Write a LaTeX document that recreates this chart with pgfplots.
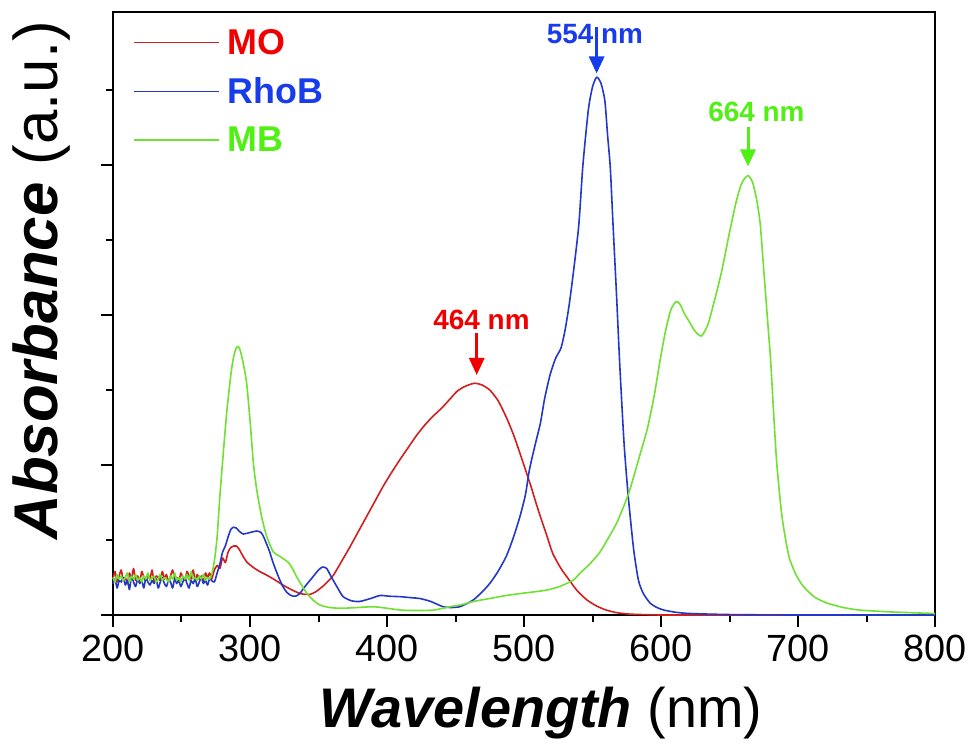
\documentclass[border=0pt]{standalone}
\usepackage{fontspec}
\setmainfont{Liberation Sans}
\usepackage{pgfplots}
\pgfplotsset{compat=1.18}
\usetikzlibrary{arrows.meta}

\definecolor{moline}{RGB}{210,30,30}
\definecolor{motext}{RGB}{240,0,0}
\definecolor{rholine}{RGB}{35,55,200}
\definecolor{rhotext}{RGB}{25,60,235}
\definecolor{mbline}{RGB}{110,225,50}
\definecolor{mbtext}{RGB}{80,240,20}

\begin{document}
\begin{tikzpicture}
\begin{axis}[
  width=822bp, height=603bp, scale only axis,
  xmin=200, xmax=800, ymin=0, ymax=4.02,
  xtick={200,300,...,800}, minor xtick={250,350,...,750},
  ytick={0,1,2,3}, minor ytick={0.5,1.5,2.5,3.5}, yticklabels={},
  tick align=outside, xtick pos=bottom, ytick pos=left,
  major tick length=12bp, minor tick length=7bp,
  axis line style={line width=2.5bp},
  every tick/.style={line width=2bp, black},
  /pgf/number format/assume math mode=true,
  tick label style={font=\fontsize{38}{40}\selectfont, inner sep=2bp},
  xticklabel style={yshift=-6bp},
  xlabel={\textbf{\textit{Wavelength}} (nm)},
  xlabel style={font=\fontsize{56}{60}\selectfont, at={(axis description cs:0.5207,-0.187)}, anchor=base},
  ylabel={\textbf{\textit{Absorbance}} (a.u.)},
  ylabel style={font=\fontsize{62}{66}\selectfont, at={(axis description cs:-0.0864,0.555)}, anchor=center},
  legend style={at={(axis description cs:0.024,0.975)}, anchor=north west, draw=none, fill=none,
    font=\fontsize{36}{38}\selectfont\bfseries, row sep=18bp, inner sep=0pt,
    /tikz/every odd column/.append style={column sep=6bp}},
  legend cell align=left,
  legend image code/.code={\draw[#1, line width=1.8bp] (0bp,0bp) -- (85bp,0bp);},
  every axis plot/.append style={line width=1.6bp, line join=round, smooth, tension=0.4},
  clip=false,
]
% MO
\addplot[moline] coordinates {
(200,0.24)(201.5,0.29)(203,0.22)(204.5,0.26)(206,0.30)(207.5,0.23)(209,0.25)(210.5,0.21)(212,0.28)(213.5,0.24)
(215,0.31)(216.5,0.23)(218,0.26)(219.5,0.22)(221,0.29)(222.5,0.25)(224,0.23)(225.5,0.27)(227,0.24)(228.5,0.30)
(230,0.22)(231.5,0.26)(233,0.25)(234.5,0.23)(236,0.29)(237.5,0.24)(239,0.27)(240.5,0.22)(242,0.26)(243.5,0.30)
(245,0.24)(246.5,0.25)(248,0.22)(249.5,0.28)(251,0.25)(252.5,0.23)(254,0.29)(255.5,0.26)(257,0.24)(258.5,0.30)
(260,0.23)(261.5,0.27)(263,0.24)(264.5,0.26)(266,0.22)(267.5,0.28)(269,0.25)(270.5,0.28)(272,0.24)(274,0.30)(276,0.33)
(278,0.31)(280,0.38)(282,0.35)(284,0.42)(286,0.45)(288,0.46)(290,0.46)(292,0.44)(295,0.39)
(298,0.35)(302,0.32)(307,0.29)(312,0.267)(318,0.235)(324,0.2)(330,0.17)(336,0.145)(340,0.138)
(344,0.138)(348,0.155)(353,0.19)(357,0.225)(361,0.267)(367,0.36)(373,0.455)(379,0.555)(385,0.655)
(391,0.755)(397,0.855)(403,0.945)(409,1.03)(415,1.11)(421,1.19)(427,1.26)(433,1.32)(440,1.38)
(446,1.44)(451,1.49)(456,1.52)(460,1.535)(464,1.545)(469,1.535)(475,1.5)(481,1.43)(487,1.32)
(492,1.21)(497,1.08)(501,0.97)(505,0.86)(509,0.74)(512,0.655)(517,0.52)(521,0.41)(527,0.31)
(533,0.233)(539,0.16)(546,0.1)(553,0.06)(560,0.033)(568,0.015)(577,0.006)(590,0.002)(610,0)(800,0)
};
\addlegendentry{\textcolor{motext}{MO}}
% RhoB
\addplot[rholine] coordinates {
(200,0.21)(201.5,0.24)(203,0.18)(204.5,0.23)(206,0.22)(207.5,0.25)(209,0.20)(210.5,0.23)(212,0.17)(213.5,0.26)
(215,0.22)(216.5,0.19)(218,0.24)(219.5,0.21)(221,0.23)(222.5,0.18)(224,0.25)(225.5,0.22)(227,0.2)(228.5,0.23)
(230,0.21)(231.5,0.24)(233,0.18)(234.5,0.22)(236,0.25)(237.5,0.21)(239,0.19)(240.5,0.23)(242,0.22)(243.5,0.18)
(245,0.24)(246.5,0.21)(248,0.23)(249.5,0.19)(251,0.22)(252.5,0.25)(254,0.21)(255.5,0.18)(257,0.23)(258.5,0.21)
(260,0.24)(261.5,0.19)(263,0.22)(264.5,0.25)(266,0.21)(267.5,0.23)(269,0.2)(270.5,0.24)(272,0.23)(274,0.22)(276,0.28)
(278,0.34)(280,0.42)(282,0.46)(284,0.52)(286,0.57)(288,0.585)(290,0.58)(292,0.56)(295,0.54)
(300,0.55)(305,0.56)(308,0.55)(310,0.52)(314,0.43)(317,0.345)(321,0.25)(324,0.19)(327,0.15)
(330,0.13)(333,0.125)(336,0.14)(341,0.2)(346,0.255)(350,0.30)(353,0.32)(356,0.31)(359,0.26)
(364,0.18)(368,0.122)(374,0.095)(380,0.09)(388,0.11)(395,0.13)(402,0.125)(410,0.122)(418,0.115)
(424,0.11)(432,0.09)(441,0.055)(447,0.05)(453,0.055)(458,0.075)(463,0.1)(469,0.15)(475,0.21)
(481,0.29)(487,0.39)(492,0.51)(497,0.655)(501,0.8)(504,0.97)(508,1.13)(512,1.28)(515,1.44)
(519,1.6)(523,1.71)(527,1.78)(530,1.9)(533,2.07)(536,2.28)(540,2.6)(543,3.0)(547,3.37)
(550,3.52)(553,3.585)(556,3.55)(559,3.43)(561,3.2)(563,2.98)(565,2.6)(567.5,2.14)(570,1.65)
(573,1.15)(576,0.8)(580,0.44)(583.5,0.233)(587,0.145)(592,0.08)(597,0.05)(602,0.033)(611,0.018)
(621,0.01)(650,0.003)(700,0)(800,0)
};
\addlegendentry{\textcolor{rhotext}{RhoB}}
% MB
\addplot[mbline] coordinates {
(200,0.25)(201.5,0.22)(203,0.27)(204.5,0.24)(206,0.26)(207.5,0.23)(209,0.25)(210.5,0.28)(212,0.22)(213.5,0.26)
(215,0.24)(216.5,0.27)(218,0.23)(219.5,0.25)(221,0.22)(222.5,0.26)(224,0.24)(225.5,0.28)(227,0.23)(228.5,0.25)
(230,0.26)(231.5,0.22)(233,0.24)(234.5,0.27)(236,0.23)(237.5,0.25)(239,0.24)(240.5,0.22)(242,0.26)(243.5,0.24)
(245,0.28)(246.5,0.23)(248,0.25)(249.5,0.22)(251,0.26)(252.5,0.24)(254,0.27)(255.5,0.23)(257,0.29)(258.5,0.24)
(260,0.25)(261.5,0.23)(263,0.26)(264.5,0.24)(266,0.27)(267.5,0.23)(269,0.25)(270.5,0.24)(272,0.27)(274,0.36)(276,0.52)
(278,0.79)(280.5,1.08)(283,1.35)(286,1.6)(288,1.72)(290,1.78)(291.5,1.79)(293,1.76)(295,1.68)
(297.5,1.55)(300,1.3)(302.5,1.01)(305,0.83)(308.5,0.655)(312,0.53)(317,0.42)(322,0.39)(328,0.35)
(331,0.31)(334,0.255)(338,0.195)(341.5,0.145)(346,0.1)(351,0.067)(358,0.05)(366,0.045)(375,0.048)
(390,0.055)(400,0.045)(410,0.033)(420,0.03)(434,0.033)(446,0.055)(455,0.07)(463,0.09)(475,0.11)
(487,0.13)(499,0.145)(508,0.155)(517,0.167)(526,0.19)(536,0.233)(541,0.28)(548,0.34)(555.5,0.42)
(562,0.52)(568,0.62)(576,0.8)(580,0.92)(585,1.08)(590,1.24)(595,1.46)(599,1.68)(603,1.88)
(607,2.03)(611,2.09)(614,2.07)(617,2.01)(621,1.95)(625,1.89)(629.5,1.86)(634,1.93)(638,2.06)
(644,2.28)(650,2.55)(655,2.76)(659,2.88)(663.5,2.93)(667,2.88)(670,2.76)(672.5,2.6)(675,2.3)
(677.5,2.0)(680,1.7)(682,1.38)(684.5,1.01)(688,0.68)(691,0.5)(694,0.37)(699,0.26)(704,0.19)
(712,0.12)(721,0.08)(733,0.05)(745,0.033)(769,0.02)(800,0.01)
};
\addlegendentry{\textcolor{mbtext}{MB}}

% annotations
\node[font=\fontsize{28}{30}\selectfont\bfseries, text=motext, anchor=base] at (axis cs:469,1.9) {464 nm};
\draw[motext, line width=3bp, -{Triangle[length=17bp,width=15bp]}] (axis cs:465.5,1.88) -- (axis cs:465.5,1.6);
\node[font=\fontsize{28}{30}\selectfont\bfseries, text=rhotext, anchor=base] at (axis cs:551.8,3.81) {554 nm};
\draw[rhotext, line width=3bp, -{Triangle[length=17bp,width=15bp]}] (axis cs:553,3.92) -- (axis cs:553,3.61);
\node[font=\fontsize{28}{30}\selectfont\bfseries, text=mbtext, anchor=base] at (axis cs:669.7,3.29) {664 nm};
\draw[mbtext, line width=3bp, -{Triangle[length=17bp,width=15bp]}] (axis cs:663.5,3.25) -- (axis cs:663.5,2.99);
\end{axis}
\path ([shift={(-113bp,-130bp)}]current axis.south west) rectangle ([shift={(37bp,12bp)}]current axis.north east);
\end{tikzpicture}
\end{document}
